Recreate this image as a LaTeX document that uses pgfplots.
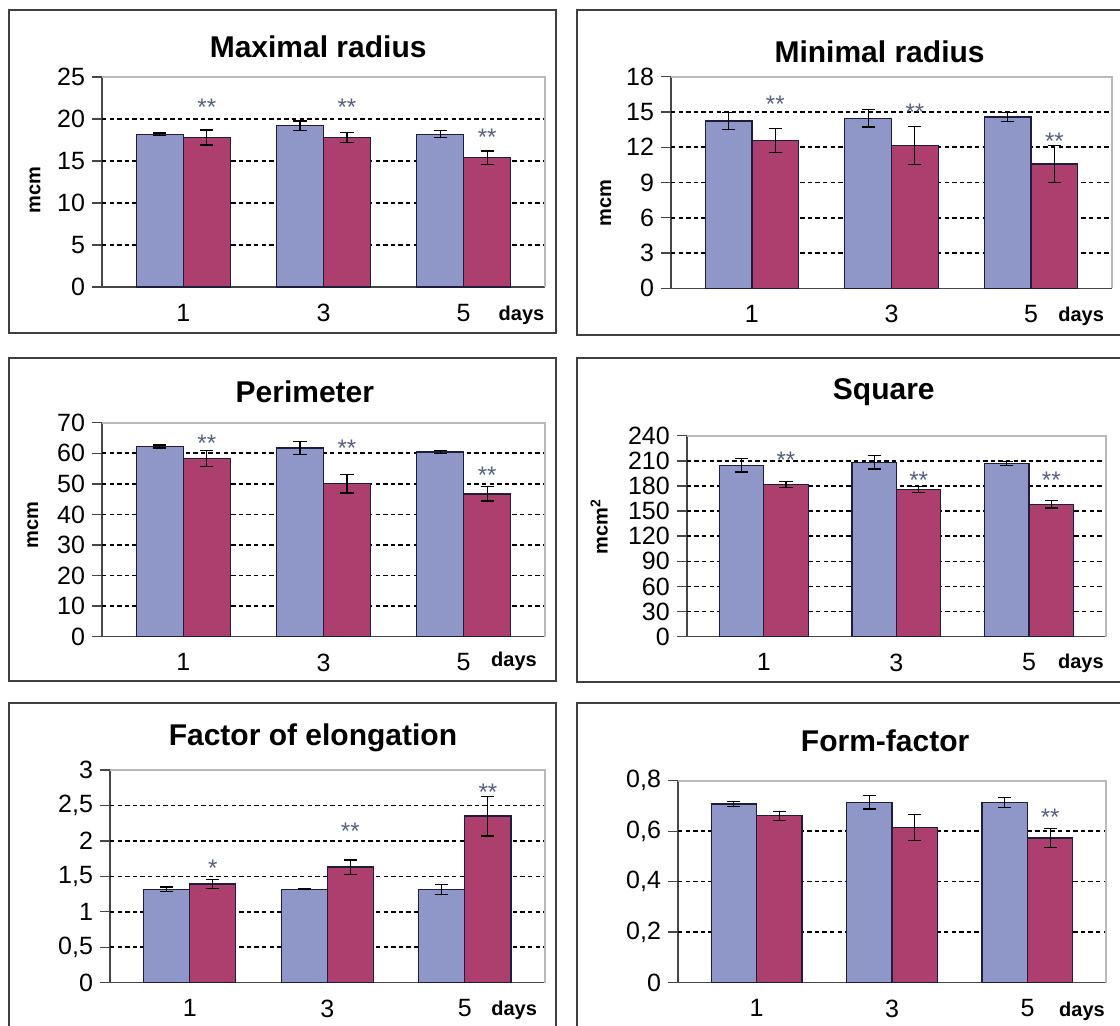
\documentclass[border=0pt]{standalone}
\usepackage{fontspec}
\setmainfont{Liberation Sans}
\usepackage{pgfplots}
\pgfplotsset{compat=1.18}

\definecolor{barblue}{RGB}{143,151,201}
\definecolor{barred}{RGB}{173,63,111}
\definecolor{baredge}{RGB}{30,30,60}
\definecolor{axisdark}{RGB}{70,70,70}
\definecolor{plotframe}{RGB}{185,185,185}
\definecolor{starcol}{RGB}{85,95,130}

\pgfplotsset{
  panel/.style={
    scale only axis, anchor=south west, clip=false,
    xmin=0.42, xmax=3.58, ymin=0,
    ybar, bar width=0.335,
    axis lines=left,
    axis line style={-, draw=axisdark, line width=0.7pt},
    xtick={1,2,3}, xticklabels={1,3,5},
    xtick style={draw=none},
    ytick pos=left, tick align=outside,
    ytick style={draw=axisdark, line width=0.7pt},
    major tick length=5pt,
    ticklabel style={font=\fontsize{12.5}{14}\selectfont},
    /pgf/number format/assume math mode=true,
    /pgf/number format/use comma,
    extra y tick labels={},
    extra y tick style={grid=major, major tick length=0pt},
    grid style={black, line width=0.8pt, dash pattern=on 2.2pt off 1.6pt},
    every axis title shift=0pt,
    title style={anchor=center, yshift=0pt, font=\bfseries\fontsize{15}{17}\selectfont},
    xlabel={days},
    xlabel style={anchor=center, font=\bfseries\fontsize{10}{12}\selectfont},
    ylabel style={anchor=center, font=\bfseries\fontsize{10}{12}\selectfont},
  },
  ctrl/.style={fill=barblue, draw=baredge, line width=0.6pt, bar shift=-0.1675,
    error bars/y dir=both, error bars/y explicit,
    error bars/error bar style={black, line width=0.6pt},
    error bars/error mark options={rotate=90, mark size=3.3pt, black, line width=0.6pt}},
  expt/.style={ctrl, fill=barred, bar shift=0.1675},
  stars/.style={draw=none, fill=none, bar shift=0.1675, forget plot,
    nodes near coords, point meta=explicit symbolic,
    every node near coord/.append style={anchor=center, yshift=-2.5pt, inner sep=0pt,
      font=\fontsize{12}{13}\selectfont, text=starcol}},
}

\newcommand{\plotframe}{\draw[plotframe, line width=0.9pt] (rel axis cs:0,1) -- (rel axis cs:1,1) -- (rel axis cs:1,0);}

\begin{document}
\begin{tikzpicture}
\path[use as bounding box] (0,0) rectangle (560pt,513pt);

% outer frames
\begin{scope}[draw=black!75, line width=1pt]
\draw (4.5pt,346.5pt) rectangle (278pt,508pt);
\draw (288.5pt,345.5pt) rectangle (565pt,508pt);
\draw (4.5pt,172.5pt) rectangle (278pt,334pt);
\draw (288.5pt,172pt) rectangle (565pt,334pt);
\draw (4.5pt,-5pt) rectangle (278pt,161.5pt);
\draw (288.5pt,-5pt) rectangle (565pt,161.5pt);
\end{scope}

% Maximal radius
\begin{axis}[panel, at={(51pt,369.5pt)}, width=221.5pt, height=105pt,
  ymax=25, ytick={0,5,10,15,20,25}, extra y ticks={5,10,15,20},
  title={Maximal radius}, title style={at={(0.488,1.143)}},
  ylabel={mcm}, ylabel style={at={(-0.151,0.462)}},
  xlabel style={at={(0.947,-0.133)}}]
\addplot[ctrl] coordinates {(1,18.2) +- (0,0.12) (2,19.2) +- (0,0.55) (3,18.2) +- (0,0.4)};
\addplot[expt] coordinates {(1,17.8) +- (0,0.9) (2,17.8) +- (0,0.6) (3,15.4) +- (0,0.8)};
\addplot[stars] coordinates {(1,22)[**] (2,22)[**] (3,18.4)[**]};
\plotframe
\end{axis}

% Minimal radius
\begin{axis}[panel, at={(335.5pt,368.85pt)}, width=220.5pt, height=105.8pt,
  ymax=18, ytick={0,3,6,9,12,15,18}, extra y ticks={3,6,9,12,15},
  title={Minimal radius}, title style={at={(0.473,1.118)}},
  ylabel={mcm}, ylabel style={at={(-0.148,0.403)}},
  xlabel style={at={(0.93,-0.134)}}]
\addplot[ctrl] coordinates {(1,14.23) +- (0,0.7) (2,14.46) +- (0,0.74) (3,14.57) +- (0,0.36)};
\addplot[expt] coordinates {(1,12.56) +- (0,1.0) (2,12.13) +- (0,1.6) (3,10.57) +- (0,1.56)};
\addplot[stars] coordinates {(1,16.05)[**] (2,15.4)[**] (3,12.9)[**]};
\plotframe
\end{axis}

% Perimeter
\begin{axis}[panel, at={(51pt,194.65pt)}, width=221.5pt, height=107pt,
  ymax=70, ytick={0,10,20,30,40,50,60,70}, extra y ticks={10,20,30,40,50,60},
  title={Perimeter}, title style={at={(0.458,1.145)}},
  ylabel={mcm}, ylabel style={at={(-0.156,0.522)}},
  xlabel style={at={(0.93,-0.117)}}]
\addplot[ctrl] coordinates {(1,62.2) +- (0,0.5) (2,61.7) +- (0,2.1) (3,60.4) +- (0,0.4)};
\addplot[expt] coordinates {(1,58.4) +- (0,2.6) (2,50.0) +- (0,3.0) (3,46.7) +- (0,2.3)};
\addplot[stars] coordinates {(1,64.8)[**] (2,63.2)[**] (3,54.6)[**]};
\plotframe
\end{axis}

% Square
\begin{axis}[panel, at={(343.4pt,194.65pt)}, width=209.6pt, height=100.5pt,
  ymax=240, ytick={0,30,60,90,120,150,180,210,240}, extra y ticks={30,60,90,120,150,180,210},
  title={Square}, title style={at={(0.47,1.219)}},
  ylabel={mcm\textsuperscript{2}}, ylabel style={at={(-0.209,0.547)}},
  xlabel style={at={(0.94,-0.131)}}]
\addplot[ctrl] coordinates {(1,204.6) +- (0,8) (2,208.2) +- (0,8) (3,206.6) +- (0,2.5)};
\addplot[expt] coordinates {(1,181.9) +- (0,3.4) (2,175.9) +- (0,3.6) (3,158) +- (0,4.4)};
\addplot[stars] coordinates {(1,217)[**] (2,193)[**] (3,193)[**]};
\plotframe
\end{axis}

% Factor of elongation
\begin{axis}[panel, at={(55pt,21.65pt)}, width=217.3pt, height=106.35pt,
  ymax=3, ytick={0,0.5,1,1.5,2,2.5,3}, extra y ticks={0.5,1,1.5,2,2.5},
  title={Factor of elongation}, title style={at={(0.467,1.149)}},
  xlabel style={at={(0.93,-0.128)}}]
\addplot[ctrl] coordinates {(1,1.316) +- (0,0.035) (2,1.316) +- (0,0.006) (3,1.316) +- (0,0.068)};
\addplot[expt] coordinates {(1,1.392) +- (0,0.063) (2,1.631) +- (0,0.1) (3,2.35) +- (0,0.28)};
\addplot[stars] coordinates {(1,1.68)[*] (2,2.2)[**] (3,2.755)[**]};
\plotframe
\end{axis}

% Form-factor
\begin{axis}[panel, at={(339pt,21.65pt)}, width=214pt, height=101pt,
  ymax=0.8, ytick={0,0.2,0.4,0.6,0.8}, extra y ticks={0.2,0.4,0.6},
  title={Form-factor}, title style={at={(0.484,1.2)}},
  xlabel style={at={(0.944,-0.144)}}]
\addplot[ctrl] coordinates {(1,0.708) +- (0,0.01) (2,0.714) +- (0,0.026) (3,0.714) +- (0,0.02)};
\addplot[expt] coordinates {(1,0.661) +- (0,0.018) (2,0.615) +- (0,0.051) (3,0.573) +- (0,0.037)};
\addplot[stars] coordinates {(3,0.677)[**]};
\plotframe
\end{axis}
\end{tikzpicture}
\end{document}
